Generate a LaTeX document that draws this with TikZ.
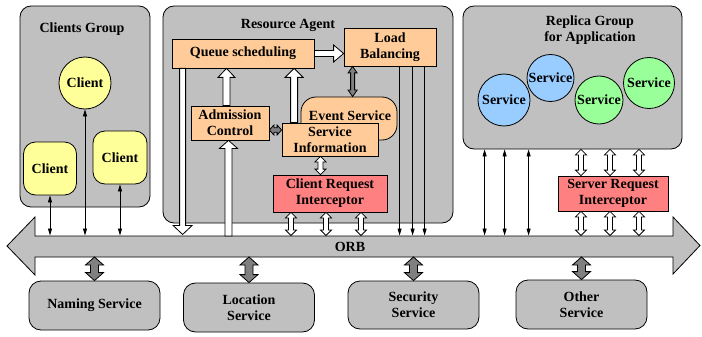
\documentclass[tikz,border=0pt]{standalone}
\usepackage{fontspec}
\setmainfont{Liberation Serif}
\usetikzlibrary{calc,arrows.meta}
\definecolor{grayC}{RGB}{192,192,192}
\definecolor{orangeC}{RGB}{255,204,153}
\definecolor{redC}{RGB}{255,128,128}
\definecolor{yellowC}{RGB}{255,255,153}
\definecolor{blueC}{RGB}{153,204,255}
\definecolor{greenC}{RGB}{153,255,153}
\definecolor{darkC}{RGB}{128,128,128}
% double-headed block arrow: style, A, B, head length, head half width, shaft half width
\newcommand\dblblock[6]{%
 \coordinate (ba1) at ($(#2)!#4!(#3)$);
 \coordinate (ba2) at ($(#3)!#4!(#2)$);
 \draw[#1] (#2) -- ($(ba1)!#5!90:(#3)$) -- ($(ba1)!#6!90:(#3)$) -- ($(ba2)!#6!-90:(#2)$) -- ($(ba2)!#5!-90:(#2)$) -- (#3) -- ($(ba2)!#5!90:(#2)$) -- ($(ba2)!#6!90:(#2)$) -- ($(ba1)!#6!-90:(#3)$) -- ($(ba1)!#5!-90:(#3)$) -- cycle;}
% single-headed block arrow from A (flat tail) to B (tip)
\newcommand\sglblock[6]{%
 \coordinate (ba2) at ($(#3)!#4!(#2)$);
 \draw[#1] ($(#2)!#6!90:(#3)$) -- ($(ba2)!#6!-90:(#2)$) -- ($(ba2)!#5!-90:(#2)$) -- (#3) -- ($(ba2)!#5!90:(#2)$) -- ($(ba2)!#6!90:(#2)$) -- ($(#2)!#6!-90:(#3)$) -- cycle;}
\begin{document}
\begin{tikzpicture}[x=1pt,y=-1pt,
  font=\fontsize{14pt}{16pt}\selectfont\bfseries,
  group/.style={draw, fill=grayC, line width=0.8pt, rounded corners=11pt, inner sep=0pt},
  obox/.style={draw, fill=orangeC, line width=0.8pt, inner sep=0pt, align=center},
  rbox/.style={draw, fill=redC, line width=0.8pt, inner sep=0pt, align=center},
  cbox/.style={draw, fill=yellowC, line width=0.8pt, inner sep=0pt, rounded corners=12pt, minimum width=53pt, minimum height=53pt},
  svc/.style={draw, circle, line width=0.8pt, inner sep=0pt},
  bsvc/.style={draw, fill=grayC, line width=0.8pt, rounded corners=12pt, inner sep=0pt, align=center, minimum width=131pt, minimum height=49pt},
  ttl/.style={align=center, inner sep=0pt},
  wbar/.style={draw, fill=white, line width=0.8pt, line join=miter},
  gbar/.style={draw, fill=darkC, line width=0.8pt, line join=miter},
  thin/.style={line width=0.7pt, -{Triangle[length=7pt,width=4pt]}},
  dthin/.style={line width=0.7pt, {Triangle[length=7pt,width=4pt]}-{Triangle[length=7pt,width=4pt]}},
  orbst/.style={draw, fill=grayC, line width=0.8pt, line join=miter}]
\useasboundingbox (0,0) rectangle (702,337);
% groups
\node[group, minimum width=130pt, minimum height=201pt] (cg) at (85,106.5) {};
\node[group, minimum width=290pt, minimum height=217pt] (ra) at (308,114.5) {};
\node[group, minimum width=219pt, minimum height=143pt] (rg) at (572.5,77.5) {};
\node[ttl] (cgt) at (82,29) {Clients Group};
\node[ttl] (rat) at (288,25) {Resource Agent};
\node[ttl] (rgt) at (590,30) {Replica Group\\for Application};
% ORB
\draw[orbst] (7,246) -- (35,217) -- (35,236) -- (673,236) -- (673,217) -- (700,245.5) -- (673,274) -- (673,257) -- (35,257) -- (35,275) -- cycle;
\node (orb) at (350,247) {ORB};
\coordinate (orbT) at (0,235.5);
\coordinate (orbB) at (0,257);
% clients
\node[svc, fill=yellowC, minimum size=52pt] (c1) at (85,83) {Client};
\node[cbox] (c2) at (50,168.5) {Client};
\node[cbox, minimum width=54pt] (c3) at (120,157.5) {Client};
% resource agent contents
\node[obox, minimum width=142pt, minimum height=29pt] (qs) at (243,53.5) {Queue scheduling};
\node[obox, minimum width=92pt, minimum height=38pt] (lb) at (390,47) {Load\\Balancing};
\node[draw, fill=orangeC, line width=0.8pt, rounded corners=15pt, minimum width=96pt, minimum height=43pt] (es) at (349,118.5) {};
\node[inner sep=0pt] (est) at (350,116) {Event Service};
\node[obox, minimum width=96pt, minimum height=33pt] (si) at (330,139.5) {Service\\Information};
\node[obox, minimum width=78pt, minimum height=34pt] (ad) at (230,123) {Admission\\Control};
\node[rbox, minimum width=114pt, minimum height=37pt] (cri) at (330,193.5) {Client Request\\Interceptor};
% replica group contents
\node[svc, fill=blueC, minimum size=52pt] (s1) at (504,100) {Service};
\node[svc, fill=blueC, minimum size=47pt] (s2) at (550.5,78) {Service};
\node[svc, fill=greenC, minimum size=48pt] (s3) at (599,100) {Service};
\node[svc, fill=greenC, minimum size=51pt] (s4) at (649,83) {Service};
\node[rbox, minimum width=110pt, minimum height=35pt] (sri) at (613,193.5) {Server Request\\Interceptor};
% bottom services
\node[bsvc] (ns) at (94.5,305.5) {Naming Service};
\node[bsvc] (ls) at (249,307.5) {Location\\Service};
\node[bsvc, minimum height=48pt] (ss) at (413.5,305) {Security\\Service};
\node[bsvc] (os) at (581.5,304.5) {Other\\Service};
% client connectors
\draw[dthin] (c2.south) -- (c2.south |- orbT);
\draw[dthin] (c1.south) -- (c1.south |- orbT);
\draw[dthin] (c3.south) -- (c3.south |- orbT);
% resource agent block arrows
\coordinate (qd1) at ($(qs.south west)+(11,0)$);
\coordinate (qd2) at ($(qd1 |- orbT)+(0,-1)$);
\sglblock{wbar}{qd1}{qd2}{9pt}{9.5pt}{3pt}
\coordinate (adu2) at ($(ad.south)+(-1.5,0)$);
\coordinate (adu1) at ($(adu2 |- orbT)+(0,0.5)$);
\sglblock{wbar}{adu1}{adu2}{8pt}{9pt}{3.5pt}
\coordinate (aq1) at ($(ad.north)+(-3.5,0)$);
\coordinate (aq2) at (aq1 |- qs.south);
\sglblock{wbar}{aq1}{aq2}{9pt}{8.5pt}{3.5pt}
\coordinate (sq1) at ($(si.north west)+(12.5,0)$);
\coordinate (sq2) at (sq1 |- qs.south);
\sglblock{wbar}{sq1}{sq2}{9pt}{9pt}{3.5pt}
\coordinate (ql1) at (qs.east);
\coordinate (ql2) at (lb.west |- qs.east);
\sglblock{wbar}{ql1}{ql2}{10pt}{8.5pt}{3pt}
\coordinate (le1) at ($(lb.south west)+(9,0)$);
\coordinate (le2) at (le1 |- es.north);
\dblblock{gbar}{le1}{le2}{6.5pt}{4.5pt}{2pt}
\coordinate (as1) at ($(ad.east)+(0,7)$);
\coordinate (as2) at (as1 -| si.west);
\dblblock{gbar}{as1}{as2}{4.5pt}{5pt}{2.2pt}
\coordinate (sc1) at ($(si.south)+(-9.5,0)$);
\coordinate (sc2) at (sc1 |- cri.north);
\dblblock{wbar}{sc1}{sc2}{5.5pt}{5.5pt}{2.5pt}
\foreach \i/\dx in {1/-39,2/-4,3/31}{
  \coordinate (co\i) at ($(cri.south)+(\dx,0)$);
  \coordinate (cb\i) at (co\i |- orbT);
  \dblblock{wbar}{co\i}{cb\i}{5.5pt}{5.5pt}{2.5pt}
}
\foreach \i/\dx in {1/56,2/69,3/81}{
  \coordinate (lo\i) at ($(lb.south west)+(\dx,0)$);
  \draw[thin] (lo\i) -- (lo\i |- orbT);
}
% replica group connectors
\foreach \i/\dx in {1/22,2/42,3/66}{
  \coordinate (ro\i) at ($(rg.south west)+(\dx,0)$);
  \draw[dthin] (ro\i) -- (ro\i |- orbT);
}
\foreach \i/\dx in {1/-32,2/-3,3/26}{
  \coordinate (rs\i) at ($(sri.north)+(\dx,0)$);
  \coordinate (rt\i) at (rs\i |- rg.south);
  \dblblock{wbar}{rt\i}{rs\i}{5.5pt}{5.5pt}{2.5pt}
  \coordinate (so\i) at ($(sri.south)+(\dx,0)$);
  \coordinate (sb\i) at (so\i |- orbT);
  \dblblock{wbar}{so\i}{sb\i}{5.5pt}{5.5pt}{2.5pt}
}
% bottom service connectors
\foreach \n in {ns,ls,ss,os}{
  \coordinate (bt\n) at (\n.north |- orbB);
  \dblblock{gbar}{bt\n}{\n.north}{8pt}{9pt}{4pt}
}
\end{tikzpicture}
\end{document}
